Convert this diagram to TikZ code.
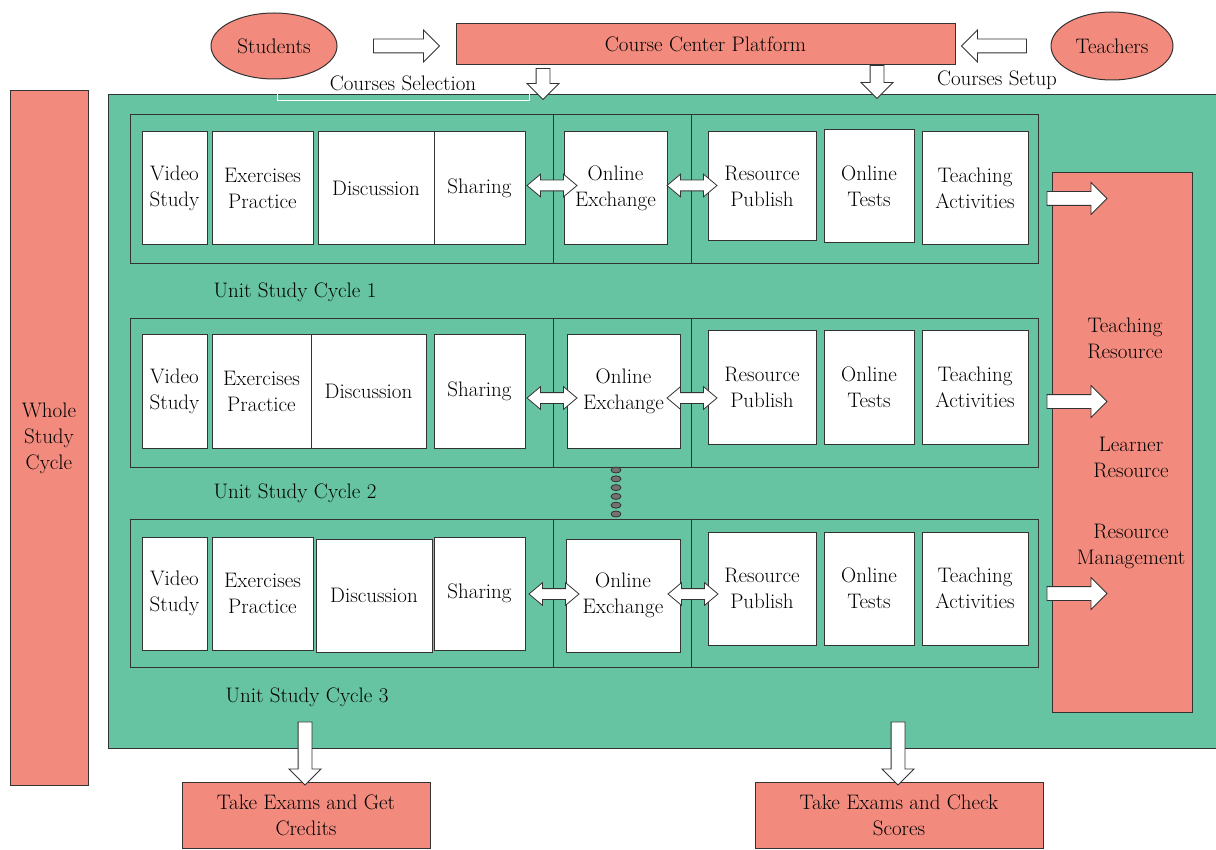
\documentclass[tikz,border=0pt]{standalone}
\usepackage{fontspec}
\usetikzlibrary{positioning,shapes.geometric,shapes.arrows,calc}
\definecolor{salmon}{RGB}{242,139,125}
\definecolor{mint}{RGB}{103,196,162}

\begin{document}
\begin{tikzpicture}[x=1pt, y=-1pt,
  every node/.style={font=\fontsize{21}{26}\selectfont},
  redbox/.style={draw=black!80, line width=1pt, fill=salmon, align=center, inner sep=0pt},
  actor/.style={draw=black!80, line width=1pt, ellipse, fill=salmon, inner sep=0pt},
  unit/.style={draw=black!80, line width=1pt, fill=white, align=center, inner sep=0pt, minimum height=113pt},
  frame/.style={draw=black!80, line width=1pt, minimum width=908pt, minimum height=148pt, inner sep=0pt},
  fatarrow/.style={single arrow, draw=black!80, line width=0.8pt, fill=white, inner xsep=0pt, inner ysep=6.5pt, single arrow head extend=9pt},
  swaparrow/.style={double arrow, draw=black!80, line width=0.8pt, fill=white, inner xsep=0pt, inner ysep=5pt, double arrow head extend=6pt, double arrow tip angle=80, minimum height=50pt}
]
  \useasboundingbox (0,0) rectangle (1216,850);

  \node[redbox, minimum width=78pt, minimum height=694pt] (whole) at (49,438) {Whole\\Study\\Cycle};
  \node[draw=black!80, line width=1pt, fill=mint, minimum width=1108pt, minimum height=653pt] (green) at (662,421.5) {};
  \node[redbox, minimum width=140pt, minimum height=539pt] (resrc) at (1122,442.5) {};
  \node[align=center] (tres) at (1125,338) {Teaching\\Resource};
  \node[align=center] (lres) at (1131,457) {Learner\\Resource};
  \node[align=center] (rman) at (1131,546) {Resource\\Management};

  % top row: actors and the platform
  \node[actor, minimum width=126pt, minimum height=66pt] (stud) at (274,46) {Students};
  \node[redbox, minimum width=499pt, minimum height=41pt] (ccp) at (705.5,44.5) {Course Center Platform};
  \node[actor, minimum width=122pt, minimum height=68pt] (teach) at (1112,46) {Teachers};
  \node[fatarrow, minimum height=66pt] (s2c) at (403,46) {};
  \node[fatarrow, minimum height=65pt, rotate=180] (t2c) at (997.5,46) {};
  \node[fatarrow, minimum height=31pt, rotate=-90] (c2g1) at (543,80.5) {};
  \node[fatarrow, minimum height=33pt, rotate=-90] (c2g2) at (877,78.5) {};
  \node (csel) at (403,83) {Courses Selection};
  \node (cset) at (997,80) {Courses Setup};
  \draw[white, line width=1pt] (277,94) |- (529,101) -- (529,94);

  % unit study cycle 1
  \node[frame, minimum height=149pt] (row1) at (584,189.5) {};
  \draw[draw=black!80, line width=1pt] ([xshift=-31pt]row1.north) -- ([xshift=-31pt]row1.south);
  \draw[draw=black!80, line width=1pt] ([xshift=107pt]row1.north) -- ([xshift=107pt]row1.south);
  \node[unit, minimum width=65pt] (vs1) at (174.5,188.5) {Video\\Study};
  \node[unit, minimum width=101pt] (ep1) at (262.5,188.5) {Exercises\\Practice};
  \node[unit, minimum width=116pt] (disc1) at (376,188.5) {Discussion};
  \node[unit, minimum width=91pt] (shr1) at (479.5,188.5) {Sharing};
  \node[unit, minimum width=103pt] (oe1) at (615.5,188.5) {Online\\Exchange};
  \node[unit, minimum width=108pt, minimum height=109pt] (rp1) at (762,186.5) {Resource\\Publish};
  \node[unit, minimum width=90pt] (ot1) at (869,186.5) {Online\\Tests};
  \node[unit, minimum width=106pt] (ta1) at (975,188.5) {Teaching\\Activities};
  \node[swaparrow] (x1l) at ($(row1.center)+(-32,-4)$) {};
  \node[swaparrow] (x1r) at ($(row1.center)+(108,-4)$) {};
  \node[fatarrow, minimum height=60pt] (a1) at ($(ta1.east)+(45,10)$) {};
  \node (cyc1) at (295,292) {Unit Study Cycle 1};

  % unit study cycle 2
  \node[frame] (row2) at (584,393) {};
  \draw[draw=black!80, line width=1pt] ([xshift=-31pt]row2.north) -- ([xshift=-31pt]row2.south);
  \draw[draw=black!80, line width=1pt] ([xshift=107pt]row2.north) -- ([xshift=107pt]row2.south);
  \node[unit, minimum width=65pt] (vs2) at (174.5,391.5) {Video\\Study};
  \node[unit, minimum width=99pt] (ep2) at (261.5,391.5) {Exercises\\Practice};
  \node[unit, minimum width=115pt] (disc2) at (368.5,391.5) {Discussion};
  \node[unit, minimum width=91pt] (shr2) at (479.5,391.5) {Sharing};
  \node[unit, minimum width=113pt] (oe2) at (623.5,391.5) {Online\\Exchange};
  \node[unit, minimum width=108pt] (rp2) at (762,387.5) {Resource\\Publish};
  \node[unit, minimum width=90pt] (ot2) at (869,387.5) {Online\\Tests};
  \node[unit, minimum width=106pt] (ta2) at (975,387.5) {Teaching\\Activities};
  \node[swaparrow] (x2l) at ($(row2.center)+(-32,5)$) {};
  \node[swaparrow] (x2r) at ($(row2.center)+(108,5)$) {};
  \node[fatarrow, minimum height=60pt] (a2) at ($(ta2.east)+(45,14)$) {};
  \node (cyc2) at (295,493) {Unit Study Cycle 2};

  % dots between cycles
  \foreach \i in {0,...,5}
    \draw[draw=black!80, fill=black!55, line width=0.8pt] (616,470+8.8*\i) ellipse (5pt and 3pt);

  % unit study cycle 3
  \node[frame] (row3) at (584,593) {};
  \draw[draw=black!80, line width=1pt] ([xshift=-31pt]row3.north) -- ([xshift=-31pt]row3.south);
  \draw[draw=black!80, line width=1pt] ([xshift=107pt]row3.north) -- ([xshift=107pt]row3.south);
  \node[unit, minimum width=65pt] (vs3) at (174.5,593.5) {Video\\Study};
  \node[unit, minimum width=101pt] (ep3) at (262.5,593.5) {Exercises\\Practice};
  \node[unit, minimum width=116pt] (disc3) at (374,595.5) {Discussion};
  \node[unit, minimum width=91pt] (shr3) at (479.5,593.5) {Sharing};
  \node[unit, minimum width=114pt] (oe3) at (623,595.5) {Online\\Exchange};
  \node[unit, minimum width=108pt] (rp3) at (762,588.5) {Resource\\Publish};
  \node[unit, minimum width=90pt] (ot3) at (869,588.5) {Online\\Tests};
  \node[unit, minimum width=106pt] (ta3) at (975,588.5) {Teaching\\Activities};
  \node[swaparrow] (x3l) at ($(row3.center)+(-30,1)$) {};
  \node[swaparrow] (x3r) at ($(row3.center)+(109,1)$) {};
  \node[fatarrow, minimum height=60pt] (a3) at ($(ta3.east)+(45,5)$) {};
  \node (cyc3) at (307,697) {Unit Study Cycle 3};

  % exams
  \node[redbox, minimum width=248pt, minimum height=66pt] (exam1) at (306,815) {Take Exams and Get\\Credits};
  \node[redbox, minimum width=288pt, minimum height=66pt] (exam2) at (899,815) {Take Exams and Check\\Scores};
  \node[fatarrow, minimum height=63pt, rotate=-90] (g2e1) at ($(exam1.north)+(-1,-31.5)$) {};
  \node[fatarrow, minimum height=63pt, rotate=-90] (g2e2) at ($(exam2.north)+(-1,-31.5)$) {};

\end{tikzpicture}
\end{document}
